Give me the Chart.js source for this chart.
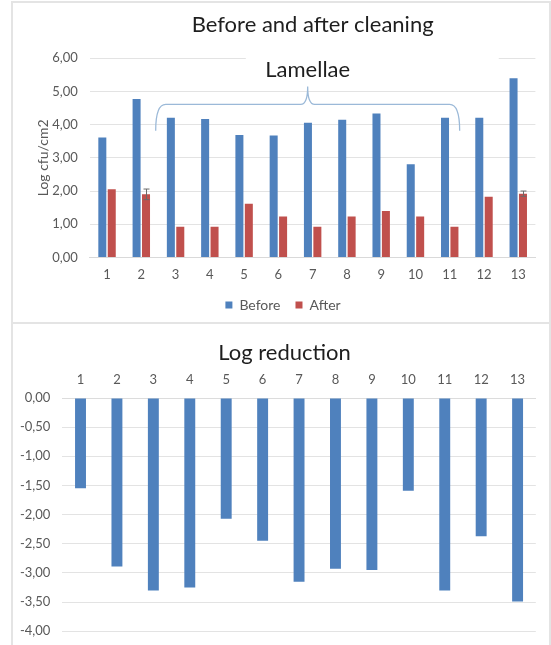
<!DOCTYPE html>
<html>
<head>
<meta charset="utf-8">
<script src="https://cdn.jsdelivr.net/npm/chart.js@4.4.1/dist/chart.umd.min.js"></script>
<style>
  html, body { margin: 0; padding: 0; background: #fff; }
  body { width: 551px; height: 645px; position: relative; overflow: hidden; }
  .panel { position: absolute; box-sizing: border-box; border: 2px solid #e4e4e4; }
  #panelTop { left: 11px; top: 1px; width: 540px; height: 323px; }
  #panelBottom { left: 11px; top: 322px; width: 540px; height: 340px; }
  canvas { position: absolute; left: 0; }
  #cleaningChart { top: 0; }
  #reductionChart { top: 323px; }
</style>
</head>
<body>
<div class="panel" id="panelTop"></div>
<div class="panel" id="panelBottom"></div>
<canvas id="cleaningChart" width="551" height="323"></canvas>
<canvas id="reductionChart" width="551" height="328"></canvas>
<script>
// sample numbers on the x axis
const sampleLabels = ['1', '2', '3', '4', '5', '6', '7', '8', '9', '10', '11', '12', '13'];

// log cfu/cm2 before and after cleaning
const beforeValues = [3.61, 4.77, 4.21, 4.17, 3.69, 3.67, 4.06, 4.15, 4.34, 2.81, 4.21, 4.21, 5.40];
const afterValues = [2.05, 1.90, 0.92, 0.92, 1.62, 1.23, 0.92, 1.23, 1.40, 1.23, 0.92, 1.83, 1.92];
const afterErrors = [0, 0.16, 0, 0, 0, 0, 0, 0, 0, 0, 0, 0, 0.08];

// log reduction (after - before)
const reductionValues = [-1.55, -2.89, -3.30, -3.25, -2.07, -2.45, -3.15, -2.93, -2.95, -1.59, -3.30, -2.37, -3.49];

// the "Lamellae" brace, in category index / axis units
const lamellaeText = 'Lamellae';
const braceFrom = 1.42;
const braceTo = 10.29;
const braceLevel = 4.61;
const braceFoot = 3.82;
const bracePeak = 5.15;
const lamellaeLevel = 5.65;
// the text frame hides a piece of the 6,00 gridline
const frameFrom = 4.05;
const frameTo = 11.43;

const FONT = 'Lato';
const TICK_COLOR = '#595959';
const GRID_COLOR = '#e3e3e3';
const BLUE = '#4f81bd';
const RED = '#c0504d';

const commaFormat = (v) => Number(v).toFixed(2).replace('.', ',');

// ==========================================
// Extra drawing: brace, label, error bars
// ==========================================
const lamellaePlugin = {
    id: 'lamellae',
    beforeDatasetsDraw(chart) {
        const { ctx, scales: { x, y } } = chart;
        const x0 = x.getPixelForValue(frameFrom);
        const x1 = x.getPixelForValue(frameTo);
        const gy = y.getPixelForValue(6);
        ctx.save();
        ctx.fillStyle = '#ffffff';
        ctx.fillRect(x0, gy - 3, x1 - x0, 6);
        ctx.restore();
    },
    afterDatasetsDraw(chart) {
        const { ctx, scales: { x, y } } = chart;

        // error bars on the "After" series
        const meta = chart.getDatasetMeta(1);
        ctx.save();
        ctx.strokeStyle = '#6b6b6b';
        ctx.lineWidth = 1;
        afterErrors.forEach((err, i) => {
            if (!err) return;
            const bx = Math.round(meta.data[i].x) + 0.5;
            const top = y.getPixelForValue(afterValues[i] + err);
            const bottom = y.getPixelForValue(afterValues[i] - err);
            ctx.beginPath();
            ctx.moveTo(bx, top);
            ctx.lineTo(bx, bottom);
            ctx.moveTo(bx - 3, top);
            ctx.lineTo(bx + 3, top);
            ctx.moveTo(bx - 3, bottom);
            ctx.lineTo(bx + 3, bottom);
            ctx.stroke();
        });
        ctx.restore();

        // curly brace
        const L = x.getPixelForValue(braceFrom);
        const R = x.getPixelForValue(braceTo);
        const M = (L + R) / 2;
        const yh = y.getPixelForValue(braceLevel);
        const yf = y.getPixelForValue(braceFoot);
        const yp = y.getPixelForValue(bracePeak);
        ctx.save();
        ctx.strokeStyle = '#9bb9d8';
        ctx.lineWidth = 1.3;
        ctx.beginPath();
        ctx.moveTo(L, yf);
        ctx.quadraticCurveTo(L, yh, L + 10, yh);
        ctx.lineTo(M - 7, yh);
        ctx.quadraticCurveTo(M, yh, M, yp);
        ctx.quadraticCurveTo(M, yh, M + 7, yh);
        ctx.lineTo(R - 10, yh);
        ctx.quadraticCurveTo(R, yh, R, yf);
        ctx.stroke();

        ctx.fillStyle = '#1e1e1e';
        ctx.font = '22px ' + FONT;
        ctx.textAlign = 'center';
        ctx.textBaseline = 'middle';
        ctx.fillText(lamellaeText, M, y.getPixelForValue(lamellaeLevel));
        ctx.restore();
    }
};

// y tick labels of the lower chart hang out to the left of its narrow axis box
const openLabelClip = {
    id: 'openLabelClip',
    afterLayout(chart) {
        chart.scales.y.left = 0;
    }
};

// ==========================================
// Chart 1: before and after cleaning
// ==========================================
new Chart(document.getElementById('cleaningChart'), {
    type: 'bar',
    data: {
        labels: sampleLabels,
        datasets: [
            { label: 'Before', data: beforeValues, backgroundColor: BLUE, categoryPercentage: 0.55, barPercentage: 0.85 },
            { label: 'After', data: afterValues, backgroundColor: RED, categoryPercentage: 0.55, barPercentage: 0.85 }
        ]
    },
    options: {
        responsive: false,
        animation: false,
        layout: { padding: { left: 30.7, right: 15.6, top: 0, bottom: 1 } },
        scales: {
            x: {
                grid: { display: false, drawTicks: false },
                border: { display: true, color: '#d9d9d9' },
                ticks: { color: TICK_COLOR, font: { family: FONT, size: 13 }, padding: 10 },
                afterFit(scale) { scale.height = 25.6; }
            },
            y: {
                min: 0,
                max: 6,
                ticks: { stepSize: 1, color: TICK_COLOR, font: { family: FONT, size: 13 }, padding: 12, callback: commaFormat },
                grid: { color: GRID_COLOR, drawTicks: false },
                border: { display: false },
                title: { display: true, text: 'Log cfu/cm2', color: TICK_COLOR, font: { family: FONT, size: 14 } },
                afterFit(scale) { scale.width = 59.2; }
            }
        },
        plugins: {
            title: {
                display: true,
                text: 'Before and after cleaning',
                fullSize: false,
                color: '#1e1e1e',
                font: { family: FONT, size: 22, weight: 'normal' },
                padding: { top: 11.8, bottom: 20.1 }
            },
            legend: {
                position: 'bottom',
                labels: { color: TICK_COLOR, font: { family: FONT, size: 14 }, boxWidth: 7, boxHeight: 7, padding: 15 }
            },
            tooltip: { enabled: false }
        }
    },
    plugins: [lamellaePlugin]
});

// ==========================================
// Chart 2: log reduction
// ==========================================
new Chart(document.getElementById('reductionChart'), {
    type: 'bar',
    data: {
        labels: sampleLabels,
        datasets: [
            { label: 'Log reduction', data: reductionValues, backgroundColor: BLUE, categoryPercentage: 0.6, barPercentage: 0.5 }
        ]
    },
    options: {
        responsive: false,
        animation: false,
        layout: { padding: { left: 33.2, right: 15.2, top: 0, bottom: 0 } },
        scales: {
            x: {
                position: 'top',
                grid: { display: false, drawTicks: false },
                border: { display: true, color: '#dcdcdc' },
                ticks: { color: TICK_COLOR, font: { family: FONT, size: 13 }, padding: 10 },
                afterFit(scale) { scale.height = 25.6; }
            },
            y: {
                min: -4,
                max: 0,
                ticks: { stepSize: 0.5, color: TICK_COLOR, font: { family: FONT, size: 13 }, padding: 12, callback: commaFormat },
                grid: { color: GRID_COLOR, drawTicks: false },
                border: { display: false },
                afterFit(scale) { scale.width = 29.1; }
            }
        },
        plugins: {
            title: {
                display: true,
                text: 'Log reduction',
                color: '#1e1e1e',
                font: { family: FONT, size: 22, weight: 'normal' },
                padding: { top: 17.1, bottom: 5.9 }
            },
            legend: { display: false },
            tooltip: { enabled: false }
        }
    },
    plugins: [openLabelClip]
});
</script>
</body>
</html>
